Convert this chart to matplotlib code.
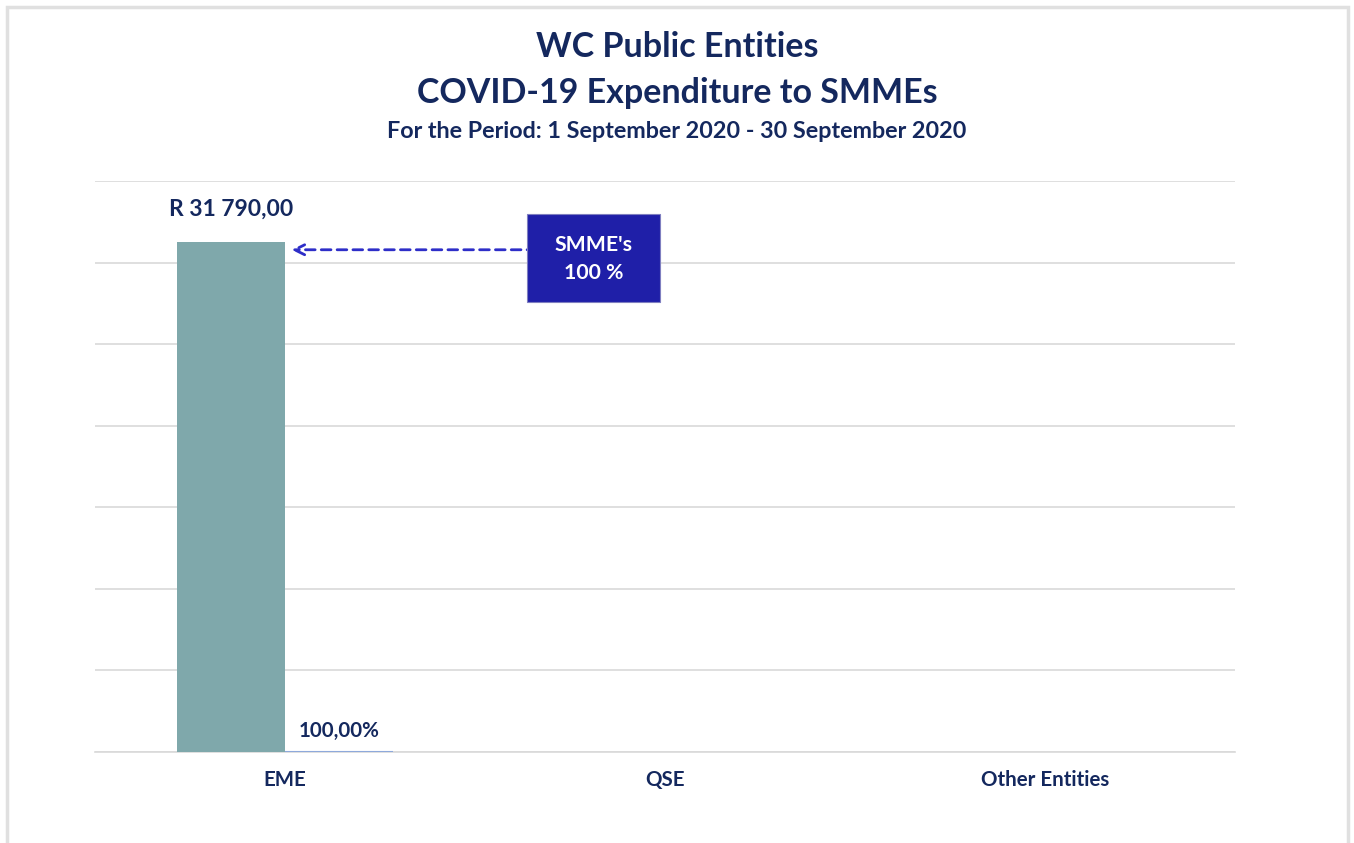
import matplotlib
matplotlib.use("Agg")
import matplotlib.pyplot as plt
from matplotlib.patches import Rectangle
import numpy as np

categories = ["EME", "QSE", "Other Entities"]
amounts = [31790.00, 0, 0]
shares = [1.0, 0, 0]          # 100,00%
amount_labels = ["R 31 790,00", "", ""]
share_labels = ["100,00%", "", ""]
callout_text = "SMME's\n100 %"
title_lines = ["WC Public Entities", "COVID-19 Expenditure to SMMEs"]
subtitle = "For the Period: 1 September 2020 - 30 September 2020"

NAVY = "#14285E"
BAR = "#7FA8AB"
PCT = "#8EA9DB"
BOX = "#1F1FA8"

plt.rcParams['font.family'] = ['Lato', 'DejaVu Sans']

fig = plt.figure(figsize=(13.54, 8.43), dpi=100)
fig.patches.append(Rectangle((7/1354, -0.01), 1341/1354, 1 - 7/843 + 0.01,
                             transform=fig.transFigure, fill=False,
                             edgecolor="#E0E0E0", linewidth=2.5))

ax = fig.add_axes([95/1354, 1 - 752/843, 1140/1354, (752 - 181)/843])
x = np.arange(len(categories))
w = 0.285
ymax = 35600
ax.bar(x - w/2, amounts, width=w, color=BAR, zorder=3)
ax.bar(x + w/2, shares, width=w, color=PCT,
       edgecolor=[PCT if s > 0 else "none" for s in shares], linewidth=1.5, zorder=3)

ax.set_ylim(0, ymax)
ax.set_xlim(-0.5, len(categories) - 0.5)
ax.set_yticks(np.linspace(0, ymax, 8))
ax.yaxis.grid(True, color="#D9D9D9", linewidth=1.2, zorder=0)
ax.set_yticklabels([])
ax.tick_params(axis='y', length=0)
ax.tick_params(axis='x', length=0, pad=13)
ax.set_xticks(x)
ax.set_xticklabels(categories, fontsize=14.8, fontweight='bold', color=NAVY)
for s in ["top", "right", "left"]:
    ax.spines[s].set_visible(False)
ax.spines["bottom"].set_color("#D9D9D9")
ax.spines["bottom"].set_linewidth(1.2)

for i, (a, lab) in enumerate(zip(amounts, amount_labels)):
    if lab:
        ax.annotate(lab, (x[i] - w/2, a), xytext=(0, 16), textcoords="offset points",
                    ha="center", va="bottom", fontsize=16.5, fontweight="bold", color=NAVY)
for i, (s, lab) in enumerate(zip(shares, share_labels)):
    if lab:
        ax.annotate(lab, (x[i] + w/2, s), xytext=(0, 8), textcoords="offset points",
                    ha="center", va="bottom", fontsize=14.8, fontweight="bold", color=NAVY)

# callout box with arrow
ax.annotate("", xy=(x[0] + 0.01, amounts[0] * 0.985), xytext=(0.92, amounts[0] * 0.985),
            arrowprops=dict(arrowstyle="->", linestyle=(0, (3.5, 2.2)), color="#2E2EC8",
                        lw=2.0, mutation_scale=18), zorder=5)
fig.patches.append(Rectangle((527/1354, 1 - 302/843), 133/1354, 88/843,
                             transform=fig.transFigure, facecolor=BOX,
                             edgecolor="#7F7FC0", linewidth=0.8, zorder=6))
fig.text(593.5/1354, 1 - 259/843, callout_text, ha="center", va="center",
         fontsize=15.3, fontweight="bold", color="white", linespacing=1.5, zorder=7)

fig.text(0.5, 1 - 47/843, title_lines[0], ha="center", va="center",
         fontsize=24.5, fontweight="bold", color=NAVY)
fig.text(0.5, 1 - 93/843, title_lines[1], ha="center", va="center",
         fontsize=24.5, fontweight="bold", color=NAVY)
fig.text(0.5, 1 - 132/843, subtitle, ha="center", va="center",
         fontsize=16.8, fontweight="bold", color=NAVY)

fig.savefig("out.png", dpi=100, facecolor="white")
